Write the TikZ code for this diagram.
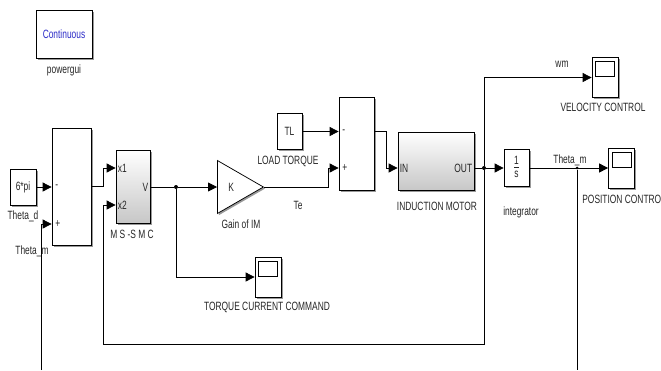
\documentclass[tikz,border=0pt]{standalone}
\usepackage{fontspec}
\setmainfont{Liberation Sans}[FakeStretch=0.7]
\usetikzlibrary{arrows.meta,shapes.geometric,shadows}

\begin{document}
\begin{tikzpicture}[
		x=1pt, y=-1pt,
		line width=0.75pt,
		every node/.style={font=\fontsize{12}{14}\selectfont, inner sep=0pt, text=black!85},
		blk/.style={draw, fill=white, general shadow={fill=black!40, shadow xshift=1.6pt, shadow yshift=-1.6pt}},
		sub/.style={blk, top color=white, bottom color=black!22},
		scopebox/.style={blk, minimum width=26pt, minimum height=40pt,
			path picture={\draw ([xshift=3.5pt,yshift=-4pt]path picture bounding box.north west) rectangle ([xshift=-3.5pt,yshift=-19pt]path picture bounding box.north east);}},
		junc/.style={circle, fill=black, minimum size=4pt},
		sig/.style={-{Triangle[length=9pt,width=9pt]}}
	]
  \useasboundingbox (0,0) rectangle (661,370);

  % blocks
  \node (gui) [blk, minimum width=56pt, minimum height=48pt, text={rgb,255:red,45;green,45;blue,200}] at (64,34) {Continuous};
  \node (ref) [blk, minimum width=26pt, minimum height=36pt] at (23,187) {6*pi};
  \node (sum1) [blk, minimum width=39pt, minimum height=117pt] at (71.5,186.5) {};
  \node (smc) [sub, minimum width=34pt, minimum height=73pt] at (133,186.5) {};
  \node (gain) [blk, isosceles triangle, isosceles triangle stretches, minimum width=53pt, minimum height=46pt, anchor=lower side] at (217,187) {K};
  \node (tl) [blk, minimum width=25pt, minimum height=36pt] at (289.5,131.5) {TL};
  \node (sum2) [blk, minimum width=35pt, minimum height=93pt] at (356.5,143.5) {};
  \node (im) [sub, minimum width=76pt, minimum height=58pt] at (436,161) {};
  \node (integ) [blk, minimum width=25pt, minimum height=37pt] at (516.5,168) {\begin{tabular}{@{}c@{}}1\\[-1pt]\hline s\end{tabular}};
  \node (vel) [scopebox] at (605,77.5) {};
  \node (pos) [scopebox] at (621.5,168) {};
  \node (tcc) [scopebox] at (268,277) {};

  % ports and signs
  \node (m1) [anchor=west] at (55,187) {-};
  \node (p1) [anchor=west] at (55,224) {+};
  \node (x1) [anchor=west] at (117.5,168) {x1};
  \node (x2) [anchor=west] at (117.5,205) {x2};
  \node (v) [anchor=east] at (148.5,187) {V};
  \node (m2) [anchor=west] at (342,131.5) {-};
  \node (p2) [anchor=west] at (342,168) {+};
  \node (in) [anchor=west] at (399.5,168) {IN};
  \node (out) [anchor=east] at (472.5,168) {OUT};

  % labels
  \node (guil) at (64,70) {powergui};
  \node (thd) at (23,216) {Theta\_d};
  \node (thml) at (32,251) {Theta\_m};
  \node (smcl) at (132,234) {M S -S M C};
  \node (gainl) at (241,224) {Gain of IM};
  \node (te) at (298,205) {Te};
  \node (tll) at (288,161) {LOAD TORQUE};
  \node (iml) at (437,206) {INDUCTION MOTOR};
  \node (intl) at (521,212) {integrator};
  \node (wm) at (562,64) {wm};
  \node (thmr) at (570,160) {Theta\_m};
  \node (vell) at (603,107) {VELOCITY CONTROL};
  \node (posl) [anchor=west] at (582,199) {POSITION CONTROL};
  \node (tccl) at (267,307) {TORQUE CURRENT COMMAND};

  % junctions
  \node (d0) [junc] at (176,187) {};
  \node (d1) [junc] at (484,168) {};
  \node (d2) [junc, minimum size=3pt] at (577,168) {};
  \coordinate (thl) at (41,370);
  \coordinate (thr) at (577,370);

  % signals
  \draw [sig] (ref) -- (sum1.west |- m1.west);
  \draw [sig] (thl) |- (sum1.west |- p1.west);
  \draw [sig] (sum1.east) -- ++(12,0) |- (smc.west |- x1.west);
  \draw [sig] (d1) |- (103,344) |- (smc.west |- x2.west);
  \draw (smc.east |- v.east) -- (d0);
  \draw [sig] (d0) -- (gain.lower side);
  \draw [sig] (d0) |- (tcc.west);
  \draw [sig] (gain.apex) -- (328,187) |- (sum2.west |- p2.west);
  \draw [sig] (tl.east) -- (sum2.west |- m2.west);
  \draw [sig] (sum2.east |- tl.east) -- ++(12,0) |- (im.west |- in.west);
  \draw (im.east |- out.east) -- (d1);
  \draw [sig] (d1) -- (integ.west);
  \draw [sig] (d1) |- (vel.west);
  \draw [sig] (integ.east) -- (pos.west);
  \draw (d2) -- (thr);
\end{tikzpicture}
\end{document}
